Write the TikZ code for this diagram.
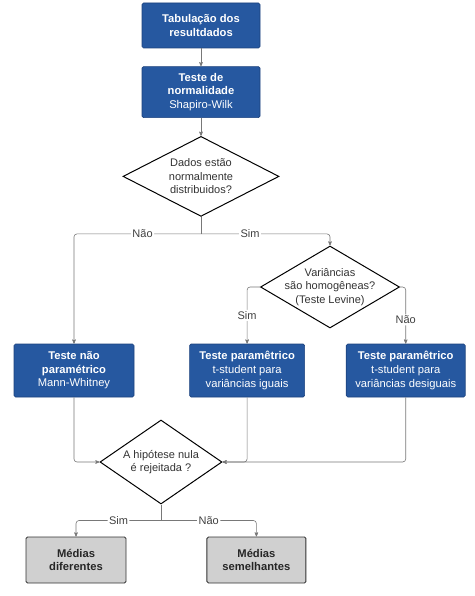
\documentclass[tikz,border=0pt]{standalone}
\usepackage{fontspec}
\setmainfont{Liberation Sans}
\usepackage{tikz}
\usetikzlibrary{shapes, arrows, positioning}
\usepackage{xcolor}
\definecolor{boxblue}{RGB}{38,88,160}
\definecolor{boxblueline}{RGB}{28,66,125}
\definecolor{boxgray}{RGB}{208,208,208}
\definecolor{linegray}{RGB}{120,120,120}

\begin{document}
\begin{tikzpicture}[x=1pt, y=1pt, >=stealth', line width=0.6pt]

\tikzstyle{process} = [rectangle, rounded corners=1.5pt, draw=boxblueline, fill=boxblue, text=white, align=center, inner sep=2pt, font=\fontsize{11.2}{13.6}\selectfont]
\tikzstyle{result} = [rectangle, rounded corners=1.5pt, draw=black!80, line width=0.9pt, fill=boxgray, text=black!85, align=center, minimum width=100pt, minimum height=46pt, font=\fontsize{11.2}{13.6}\selectfont\bfseries]
\tikzstyle{question} = [diamond, draw=black, line width=1pt, fill=white, text=black!80, align=center, inner sep=0pt, font=\fontsize{11}{13.4}\selectfont]
\tikzstyle{flow} = [->, draw=linegray, rounded corners=3pt]
\tikzstyle{link} = [draw=linegray]
\tikzstyle{answer} = [fill=white, inner sep=1.5pt, text=black!75, font=\fontsize{11}{13}\selectfont]

\useasboundingbox (0,0) rectangle (474,-596);

% top of the chart
\node (T1) [process, minimum width=118pt, minimum height=45pt] at (201,-25.5) {\textbf{Tabulação dos}\\\textbf{resultdados}};
\node (T2) [process, minimum width=118pt, minimum height=51pt, below=18pt of T1] {\textbf{Teste de}\\\textbf{normalidade}\\Shapiro-Wilk};
\node (Q1) [question, minimum width=156pt, minimum height=80pt, aspect=1.95, below=18pt of T2] {Dados estão\\normalmente\\distribuidos?};
\coordinate [below=17pt of Q1] (S1);

\node (Q2) [question, minimum width=139pt, minimum height=82pt, aspect=1.7, inner sep=-3.6pt] at (330,-287) {Variâncias\\são homogêneas?\\(Teste Levine)};

% tests
\node (A1) [process, minimum width=120pt, minimum height=53pt] at (74,-370.5) {\textbf{Teste não}\\\textbf{paramétrico}\\Mann-Whitney};
\node (A2) [process, minimum width=115pt, minimum height=53pt, right=55pt of A1] {\textbf{Teste paramêtrico}\\t-student para\\variâncias iguais};
\node (A3) [process, minimum width=119pt, minimum height=53pt, right=41pt of A2] {\textbf{Teste paramêtrico}\\t-student para\\variâncias desiguais};

\node (Q3) [question, minimum width=122pt, minimum height=84pt, aspect=1.45] at (161,-462) {A hipótese nula\\é rejeitada ?};
\coordinate [below=16pt of Q3] (S2);

\node (R1) [result] at (76,-560) {Médias\\diferentes};
\node (R2) [result, minimum width=99pt, right=80pt of R1] {Médias\\semelhantes};

\draw [flow] (T1) -- (T2);
\draw [flow] (T2) -- (Q1);
\draw [link] (Q1) -- (S1);
\draw [flow] (S1) -| node[answer, pos=0.23] {Não} (A1);
\draw [flow] (S1) -| node[answer, pos=0.19] {Sim} (Q2);
\draw [flow] (Q2.west) -| node[answer, pos=0.75] {Sim} (A2);
\draw [flow] (Q2.east) -| node[answer, pos=0.79] {Não} (A3);
\draw [flow] (A1) |- (Q3.west);
\draw [flow] (A2) |- (Q3.east);
\draw [flow] (A3) |- (Q3.east);
\draw [link] (Q3) -- (S2);
\draw [flow] (S2) -| node[answer, pos=0.25] {Sim} (R1);
\draw [flow] (S2) -| node[answer, pos=0.25] {Não} (R2);

\end{tikzpicture}
\end{document}
